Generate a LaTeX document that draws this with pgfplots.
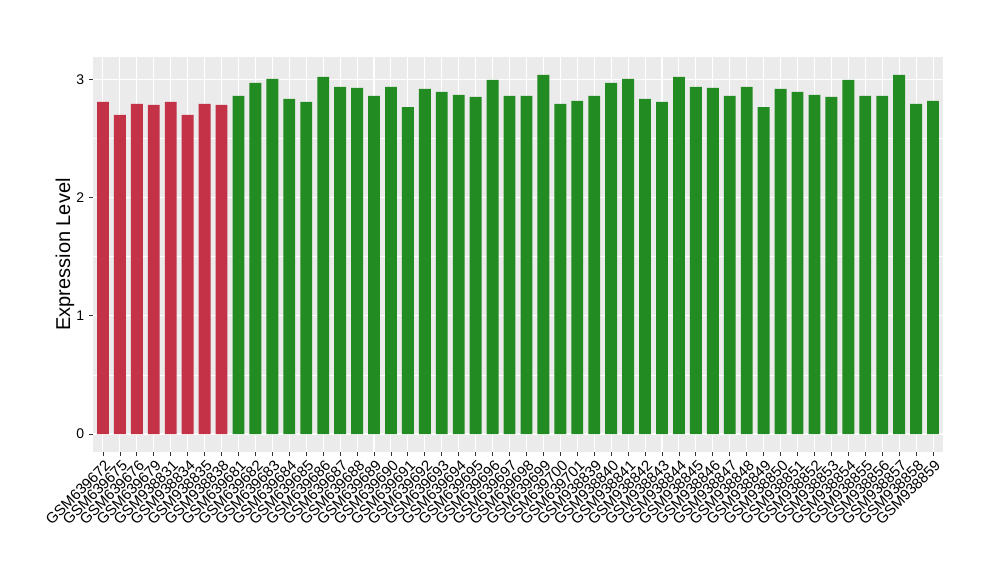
\documentclass[border=0pt]{standalone}
\usepackage{pgfplots}
\pgfplotsset{compat=1.18}
\usepackage{fontspec}
\setmainfont{Liberation Sans}
\definecolor{panel}{RGB}{235,235,235}
\definecolor{lowred}{RGB}{196,50,72}
\definecolor{fgreen}{RGB}{34,139,34}
\definecolor{tickgray}{RGB}{51,51,51}

\begin{document}
\begin{tikzpicture}
\path[use as bounding box] (0pt,0pt) rectangle (750pt,435pt);
\begin{axis}[at={(69.6pt,96pt)},anchor=south west,scale only axis,
  width=637.8pt,height=296.25pt,
  xmin=0.4,xmax=50.6,ymin=-0.152,ymax=3.189,
  axis background/.style={fill=panel},
  axis line style={draw=none},
  xtick={1,...,50},ytick={0,1,2,3},minor ytick={0.5,1.5,2.5},
  xmajorgrids,ymajorgrids,yminorgrids,
  major grid style={white,line width=0.8pt},
  minor grid style={white,line width=0.4pt},
  tick align=outside,tick pos=left,
  major tick length=3pt,minor tick length=0pt,
  tick style={tickgray,line width=0.6pt},
  /pgf/number format/assume math mode=true,
  yticklabel style={font=\fontsize{10.5}{12}\selectfont,text=black},
  xticklabel style={font=\fontsize{11.2}{13}\selectfont,text=black,rotate=45,anchor=north east,inner sep=1pt,yshift=-1pt},
  xticklabels={GSM639672,GSM639675,GSM639676,GSM639679,GSM938831,GSM938834,GSM938835,GSM938838,
    GSM639681,GSM639682,GSM639683,GSM639684,GSM639685,GSM639686,GSM639687,GSM639688,GSM639689,
    GSM639690,GSM639691,GSM639692,GSM639693,GSM639694,GSM639695,GSM639696,GSM639697,GSM639698,
    GSM639699,GSM639700,GSM639701,GSM938839,GSM938840,GSM938841,GSM938842,GSM938843,GSM938844,
    GSM938845,GSM938846,GSM938847,GSM938848,GSM938849,GSM938850,GSM938851,GSM938852,GSM938853,
    GSM938854,GSM938855,GSM938856,GSM938857,GSM938858,GSM938859},
  ylabel={Expression Level},
  ylabel style={font=\fontsize{15}{18}\selectfont,at={(axis description cs:-0.0327,0.5)},anchor=center},
  ybar,bar width=0.7,bar shift=0pt]
% low group
\addplot[draw=none,fill=lowred] coordinates {
  (1,2.809)(2,2.699)(3,2.792)(4,2.783)(5,2.809)(6,2.699)(7,2.792)(8,2.783)};
% high group
\addplot[draw=none,fill=fgreen] coordinates {
  (9,2.860)(10,2.970)(11,3.003)(12,2.835)(13,2.809)(14,3.020)(15,2.936)(16,2.927)(17,2.860)
  (18,2.936)(19,2.766)(20,2.919)(21,2.893)(22,2.868)(23,2.851)(24,2.995)(25,2.860)(26,2.860)
  (27,3.037)(28,2.792)(29,2.817)(30,2.860)(31,2.970)(32,3.003)(33,2.835)(34,2.809)(35,3.020)
  (36,2.936)(37,2.927)(38,2.860)(39,2.936)(40,2.766)(41,2.919)(42,2.893)(43,2.868)(44,2.851)
  (45,2.995)(46,2.860)(47,2.860)(48,3.037)(49,2.792)(50,2.817)};
\end{axis}
\end{tikzpicture}
\end{document}
